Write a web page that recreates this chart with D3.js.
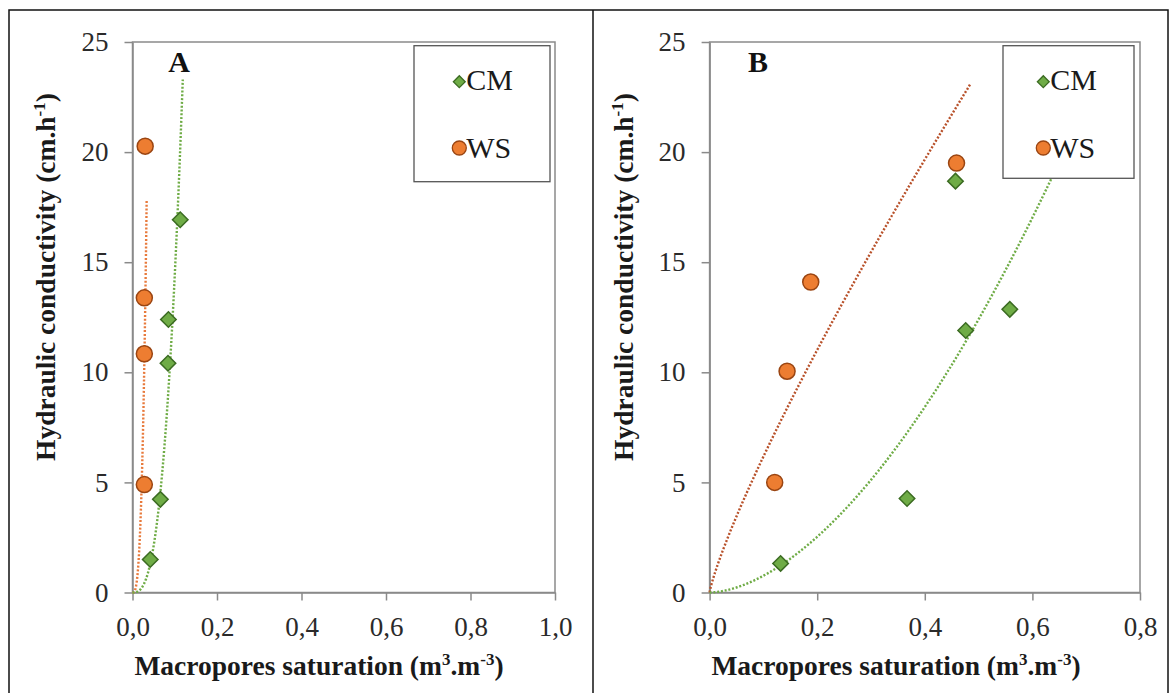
<!DOCTYPE html>
<html>
<head>
<meta charset="utf-8">
<script src="https://cdn.jsdelivr.net/npm/d3@7"></script>
<style>
  body { margin: 0; background: #fff; }
  svg text { font-family: "Liberation Serif", "Times New Roman", serif; }
</style>
</head>
<body>
<svg id="fig" width="1170" height="693"></svg>
<script>
// panel A: CM (diamonds) and WS (circles)
const cmA_x = [0.042, 0.066, 0.084, 0.085, 0.113];
const cmA_y = [1.5, 4.23, 10.41, 12.4, 16.93];
const wsA_x = [0.030, 0.028, 0.028, 0.028];
const wsA_y = [20.27, 13.38, 10.84, 4.9];

// panel B
const cmB_x = [0.132, 0.367, 0.457, 0.476, 0.558];
const cmB_y = [1.32, 4.27, 18.68, 11.9, 12.86];
const wsB_x = [0.121, 0.144, 0.188, 0.459];
const wsB_y = [5.0, 10.05, 14.1, 19.5];

// power trendlines y = a * x^b: [a, b, xEnd]
const trendCmA = [8420, 2.767, 0.119];
const trendWsA = [443000, 2.98, 0.0335];
const trendCmB = [41.3, 1.735, 0.64];
const trendWsB = [42.3, 0.836, 0.485];

const yTicks = [0, 5, 10, 15, 20, 25];
const xTicksA = [0, 0.2, 0.4, 0.6, 0.8, 1.0];
const xTicksB = [0, 0.2, 0.4, 0.6, 0.8];
const seriesNames = ["CM", "WS"];

const green = "#6fac46", greenDark = "#3b6b22";
const orange = "#ed7d31", orangeDark = "#9a4512";

const svg = d3.select("#fig");

// outer frame
svg.append("rect").attr("x", 9).attr("y", 10).attr("width", 1159).attr("height", 720)
    .attr("fill", "none").attr("stroke", "#111").attr("stroke-width", 1.5);
svg.append("line").attr("x1", 593).attr("x2", 593).attr("y1", 10).attr("y2", 693)
    .attr("stroke", "#111").attr("stroke-width", 1.5);

const fmt = d3.formatLocale({decimal: ",", thousands: ".", grouping: [3], currency: ["", ""]}).format(".1f");

const panels = [
    {label: "A", xMax: 1.0, xTicks: xTicksA, left: 132.5, right: 555, labelX: 179,
     titleY: 55, titleX: 319, cm: [cmA_x, cmA_y], ws: [wsA_x, wsA_y],
     trendCm: trendCmA, trendWs: trendWsA, wsLine: "#e87a3c",
     legend: {x: 414, y: 45.7, w: 136, h: 136, mx: 459.3}},
    {label: "B", xMax: 0.8, xTicks: xTicksB, left: 709.6, right: 1140, labelX: 758,
     titleY: 633, titleX: 896, cm: [cmB_x, cmB_y], ws: [wsB_x, wsB_y],
     trendCm: trendCmB, trendWs: trendWsB, wsLine: "#b8512a",
     legend: {x: 1003, y: 45.7, w: 131, h: 132.6, mx: 1043.3}}
];

const plotTop = 42, plotBottom = 592.5;

panels.forEach(p => {
    const x = d3.scaleLinear().domain([0, p.xMax]).range([p.left, p.right]);
    const y = d3.scaleLinear().domain([0, 25]).range([plotBottom, plotTop]);
    const g = svg.append("g");

    // plot frame
    g.append("rect").attr("x", p.left).attr("y", plotTop)
        .attr("width", p.right - p.left).attr("height", plotBottom - plotTop)
        .attr("fill", "none").attr("stroke", "#8a8a8a").attr("stroke-width", 1.5);

    const yAxis = g.append("g").attr("transform", "translate(" + p.left + ",0)")
        .call(d3.axisLeft(y).tickValues(yTicks).tickSize(8).tickSizeOuter(0).tickPadding(16));
    const xAxis = g.append("g").attr("transform", "translate(0," + plotBottom + ")")
        .call(d3.axisBottom(x).tickValues(p.xTicks).tickFormat(fmt).tickSize(8).tickSizeOuter(0).tickPadding(16));

    [yAxis, xAxis].forEach(a => {
        a.selectAll("path, line").attr("stroke", "#8a8a8a").attr("stroke-width", 1.5);
        a.selectAll("text").attr("font-size", 27).attr("fill", "#2a2a2a")
            .style("font-family", '"Liberation Serif", "Times New Roman", serif');
    });

    // axis titles
    const yt = g.append("text")
        .attr("transform", "translate(" + p.titleY + ",277) rotate(-90)")
        .attr("text-anchor", "middle").attr("font-size", 27.5).attr("font-weight", "bold").attr("fill", "#1a1a1a");
    yt.append("tspan").text("Hydraulic conductivity (cm.h");
    yt.append("tspan").attr("font-size", 17).attr("dy", -10).text("-1");
    yt.append("tspan").attr("dy", 10).text(")");

    const xt = g.append("text").attr("x", p.titleX).attr("y", 675)
        .attr("text-anchor", "middle").attr("font-size", 27.5).attr("font-weight", "bold").attr("fill", "#1a1a1a");
    xt.append("tspan").text("Macropores saturation (m");
    xt.append("tspan").attr("font-size", 17).attr("dy", -10).text("3");
    xt.append("tspan").attr("dy", 10).text(".m");
    xt.append("tspan").attr("font-size", 17).attr("dy", -10).text("-3");
    xt.append("tspan").attr("dy", 10).text(")");

    // trendlines
    const curve = (t, color) => {
        const [a, b, x1] = t;
        const xs = d3.range(0, 301).map(i => x1 * i / 300);
        g.append("path")
            .datum(xs)
            .attr("d", d3.line().x(d => x(d)).y(d => y(a * Math.pow(d, b))))
            .attr("fill", "none").attr("stroke", color).attr("stroke-width", 2.4)
            .attr("stroke-dasharray", "2,1.8");
    };
    curve(p.trendWs, p.wsLine);
    curve(p.trendCm, green);

    // points
    const diamond = d3.symbol().type(d3.symbolSquare).size(120);
    g.append("g").selectAll("path")
        .data(d3.range(p.cm[0].length))
        .join("path")
        .attr("d", diamond)
        .attr("transform", i => "translate(" + x(p.cm[0][i]) + "," + y(p.cm[1][i]) + ") rotate(45)")
        .attr("fill", green).attr("stroke", greenDark).attr("stroke-width", 1.5);
    g.append("g").selectAll("circle")
        .data(d3.range(p.ws[0].length))
        .join("circle")
        .attr("cx", i => x(p.ws[0][i])).attr("cy", i => y(p.ws[1][i])).attr("r", 8)
        .attr("fill", orange).attr("stroke", orangeDark).attr("stroke-width", 1.5);

    // legend
    const L = p.legend;
    g.append("rect").attr("x", L.x).attr("y", L.y).attr("width", L.w).attr("height", L.h)
        .attr("fill", "#fff").attr("stroke", "#555").attr("stroke-width", 1.3);
    g.append("path").attr("d", d3.symbol().type(d3.symbolSquare).size(70))
        .attr("transform", "translate(" + L.mx + ",81.7) rotate(45)")
        .attr("fill", green).attr("stroke", greenDark).attr("stroke-width", 1.3);
    g.append("circle").attr("cx", L.mx).attr("cy", 148).attr("r", 7)
        .attr("fill", orange).attr("stroke", orangeDark).attr("stroke-width", 1.3);
    seriesNames.forEach((n, i) => {
        g.append("text").attr("x", L.mx + 7).attr("y", i ? 158 : 90)
            .attr("font-size", 30).attr("fill", "#1a1a1a").text(n);
    });

    // panel letter
    g.append("text").attr("x", p.labelX).attr("y", 72).attr("text-anchor", "middle")
        .attr("font-size", 30).attr("font-weight", "bold").attr("fill", "#111").text(p.label);
});
</script>
</body>
</html>
